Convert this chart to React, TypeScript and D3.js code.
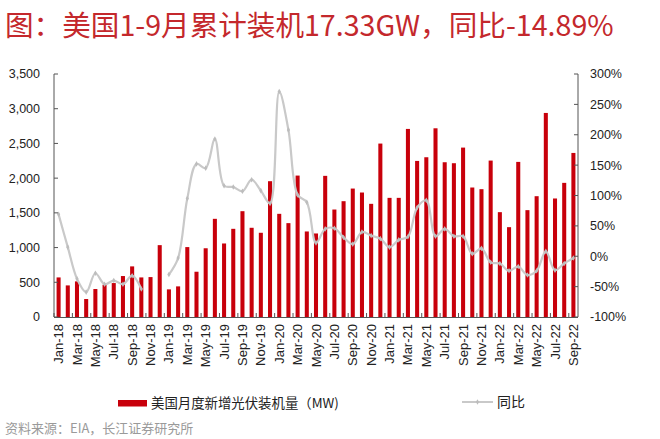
import React from "react";
import * as d3 from "d3";

const months: string[] = (() => {
  const m = ["Jan","Feb","Mar","Apr","May","Jun","Jul","Aug","Sep","Oct","Nov","Dec"];
  const out: string[] = [];
  for (let y = 18; y <= 22; y++) for (let i = 0; i < 12; i++) { if (y === 22 && i > 8) break; out.push(`${m[i]}-${y}`); }
  return out;
})();

const installedMW: number[] = [
  570, 455, 513, 259, 403, 465, 489, 590, 729, 570, 575, 1035,
  398, 441, 1007, 652, 990, 1414, 1059, 1270, 1524, 1285, 1213, 1956,
  1486, 1352, 2037, 1232, 1203, 2033, 1548, 1668, 1850, 1793, 1630, 2498,
  1716, 1716, 2709, 2248, 2301, 2718, 2229, 2215, 2440, 1865, 1841, 2253,
  1510, 1294, 2234, 1539, 1740, 2939, 1707, 1932, 2363,
];

const yoyPct: (number | null)[] = [
  69, 15, -37, -59, -28, -46, -40, -46, -32, -54, null, null,
  -30, -3, 95, 152, 145, 193, 116, 114, 107, 126, 108, 87,
  271, 208, 101, 89, 22, 45, 46, 31, 20, 40, 34, 29,
  15, 27, 32, 80, 92, 33, 45, 33, 33, 4, 13, -10,
  -12, -24, -17, -31, -24, 8, -23, -12, -3,
];

const leftTicks: number[] = [0, 500, 1000, 1500, 2000, 2500, 3000, 3500];
const rightTicks: number[] = [-100, -50, 0, 50, 100, 150, 200, 250, 300];

const titleText = "图：美国1-9月累计装机17.33GW，同比-14.89%";
const barLegend = "美国月度新增光伏装机量（MW)";
const lineLegend = "同比";
const sourceText = "资料来源：EIA，长江证券研究所";

const W = 660, H = 439;
const L = 54, R = 578, T = 74, B = 317;
const RED = "#c8000b";
const GRAY = "#c9c9c9";
const CJK = "'Noto Sans CJK SC', 'Noto Sans', sans-serif";
const LAT = "'Liberation Sans', Arial, sans-serif";

export default function App() {
  const x = d3.scaleBand<string>().domain(months).range([L, R]).padding(0);
  const yL = d3.scaleLinear().domain([0, 3500]).range([B, T]);
  const yR = d3.scaleLinear().domain([-100, 300]).range([B, T]);
  const bw = x.bandwidth() * 0.44;
  const cx = (m: string) => (x(m) as number) + x.bandwidth() / 2;

  const pts = months.map((m, i) => ({ m, v: yoyPct[i] }));
  const line = d3
    .line<{ m: string; v: number | null }>()
    .defined((d) => d.v !== null)
    .x((d) => cx(d.m))
    .y((d) => yR(d.v as number))
    .curve(d3.curveCatmullRom.alpha(0.5));
  const diamond = d3.symbol().type(d3.symbolDiamond).size(9)() as string;

  const fmt = d3.format(",");

  return (
    <svg width={W} height={H} style={{ position: "absolute", left: 0, top: 0, background: "#fff" }}>
      <rect width={W} height={H} fill="#fff" />
      <text x={5} y={35.5} fontFamily={CJK} fontSize={28.6} fill="#c4282c">{titleText}</text>

      {/* bars */}
      {months.map((m, i) => (
        <rect key={m} x={cx(m) - bw / 2} y={yL(installedMW[i])} width={bw} height={B - yL(installedMW[i])} fill={RED} />
      ))}

      {/* line */}
      <path d={line(pts) || ""} fill="none" stroke={GRAY} strokeWidth={2.2} />
      {pts.filter((d) => d.v !== null).map((d) => (
        <path key={d.m} d={diamond} transform={`translate(${cx(d.m)},${yR(d.v as number)})`} fill="#bdbdbd" />
      ))}

      {/* axes */}
      <line x1={L} x2={L} y1={T} y2={B} stroke="#555" strokeWidth={1} />
      <line x1={R} x2={R} y1={T} y2={B} stroke="#555" strokeWidth={1} />
      <line x1={L} x2={R} y1={B + 0.5} y2={B + 0.5} stroke="#555" strokeWidth={1} />
      {leftTicks.map((t) => (
        <g key={t}>
          <line x1={L} x2={L + 4} y1={yL(t)} y2={yL(t)} stroke="#555" />
          <text x={40} y={yL(t)} dy="0.35em" textAnchor="end" fontFamily={LAT} fontSize={12.5} fill="#222">{fmt(t)}</text>
        </g>
      ))}
      {rightTicks.map((t) => (
        <g key={t}>
          <line x1={R - 4} x2={R} y1={yR(t)} y2={yR(t)} stroke="#555" />
          <text x={590} y={yR(t)} dy="0.35em" textAnchor="start" fontFamily={LAT} fontSize={12.5} fill="#222">{`${t}%`}</text>
        </g>
      ))}
      {months.map((m, i) =>
        i % 2 === 0 ? (
          <g key={m}>
            <line x1={x(m) as number} x2={x(m) as number} y1={B} y2={B - 4} stroke="#555" />
            <text transform={`translate(${cx(m)},${B + 7}) rotate(-90)`} dy="0.35em" textAnchor="end" fontFamily={LAT} fontSize={13} fill="#222">{m}</text>
          </g>
        ) : null
      )}

      {/* legend */}
      <rect x={118} y={400} width={29} height={6.5} fill={RED} />
      <text x={151} y={403.5} dy="0.35em" fontFamily={CJK} fontSize={13.4} fill="#222">{barLegend}</text>
      <line x1={462} x2={493} y1={402} y2={402} stroke={GRAY} strokeWidth={2} />
      <path d={diamond} transform="translate(477.5,402)" fill="#bdbdbd" />
      <text x={497} y={402} dy="0.35em" fontFamily={CJK} fontSize={14} fill="#222">{lineLegend}</text>

      <text x={5} y={428} dy="0.35em" fontFamily={CJK} fontSize={13} fill="#9a9a9a">{sourceText}</text>
    </svg>
  );
}
